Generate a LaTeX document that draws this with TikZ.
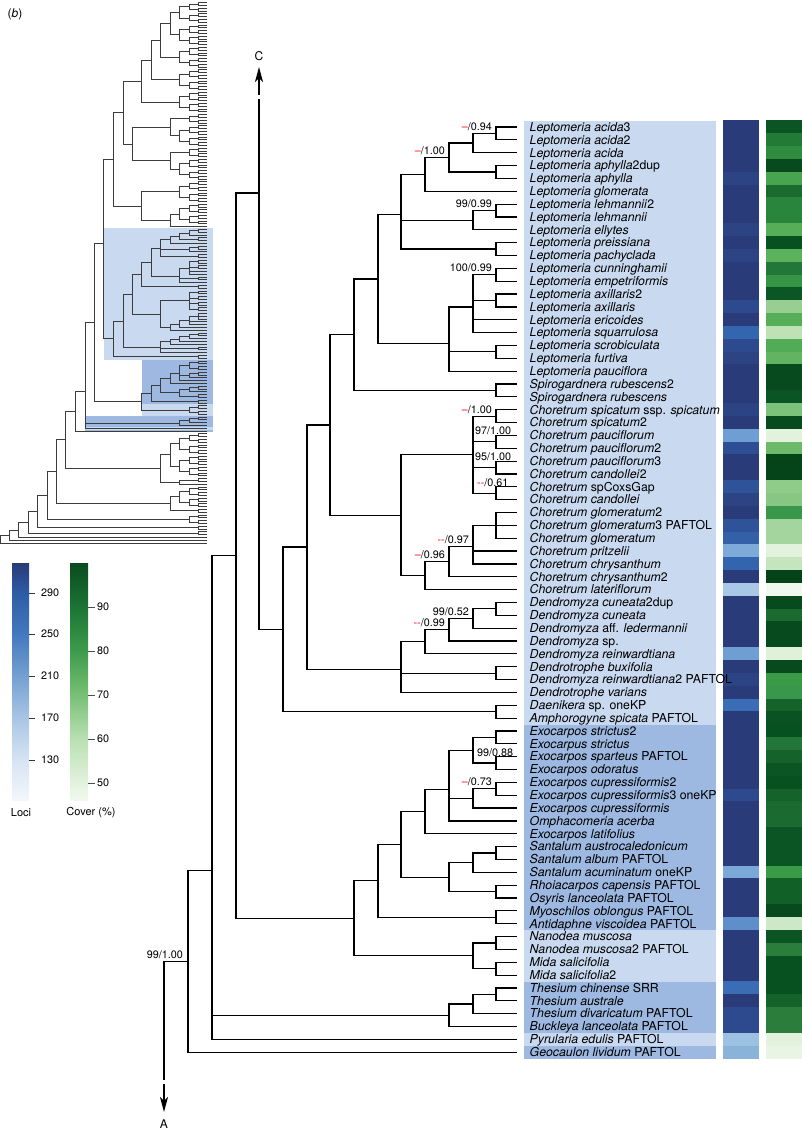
\documentclass[tikz,border=0pt]{standalone}
\usepackage{fontspec}
\setmainfont{texgyreheros}[Extension=.otf, UprightFont=*-regular, ItalicFont=*-italic,
    BoldFont=*-bold, BoldItalicFont=*-bolditalic]
\usetikzlibrary{arrows.meta}

\definecolor{cladelight}{HTML}{C9D9EF}
\definecolor{cladedark}{HTML}{9DB9E1}
\definecolor{thumbgray}{HTML}{3C3C3C}
% legend colours, bottom to top
\definecolor{lociA}{HTML}{F2F7FC}
\definecolor{lociB}{HTML}{D6E4F3}
\definecolor{lociC}{HTML}{A8C5E5}
\definecolor{lociD}{HTML}{74A0D2}
\definecolor{lociE}{HTML}{4479BE}
\definecolor{lociF}{HTML}{2D5CA6}
\definecolor{lociG}{HTML}{283A78}
\definecolor{coverA}{HTML}{F2F9EF}
\definecolor{coverB}{HTML}{B9E0B2}
\definecolor{coverC}{HTML}{78C076}
\definecolor{coverD}{HTML}{3E9B4B}
\definecolor{coverE}{HTML}{1C7434}
\definecolor{coverF}{HTML}{0A4B1F}

\pgfdeclareverticalshading{locibar}{100bp}{color(0bp)=(lociA); color(25bp)=(lociA); color(33.44bp)=(lociB); color(42.3bp)=(lociC); color(51.15bp)=(lociD); color(60bp)=(lociE); color(68.67bp)=(lociF); color(75bp)=(lociG); color(100bp)=(lociG)}
\pgfdeclareverticalshading{coverbar}{100bp}{color(0bp)=(coverA); color(25bp)=(coverA); color(37.87bp)=(coverB); color(47.15bp)=(coverC); color(56.43bp)=(coverD); color(65.7bp)=(coverE); color(75bp)=(coverF); color(100bp)=(coverF)}

\newcommand{\nd}{\textcolor{red}{–}}
\newcommand{\ndd}{\textcolor{red}{-{}-}}

\tikzset{
  taxon/.style={anchor=base west, inner sep=0pt, font=\fontsize{12.3}{14}\selectfont\itshape},
  sup/.style={anchor=base east, inner sep=0pt, xshift=-4pt, yshift=3pt, font=\fontsize{10.8}{13}\selectfont},
  supl/.style={anchor=base west, inner sep=0pt, xshift=-21pt, yshift=7pt, font=\fontsize{10.8}{13}\selectfont},
  legnum/.style={anchor=west, inner sep=0pt, font=\fontsize{10.8}{13}\selectfont},
  cutarrow/.style={line width=1.8pt, -{Stealth[length=15pt,width=8pt,inset=4pt]}},
}

% internal nodes of the tree: x in px, y in rows
\newcommand{\treepoints}{%
  \foreach \r in {1,...,73} \coordinate (t\r) at (517,\r);
  \foreach \n/\x/\y in {L1/496/1.5, L2/473/2.25, L3/496/4.5, L4/449/3.375, L5/425/4.6875,
      L6/496/7.5, L7/473/8.25, L8/496/10.5, L9/401/7.8125, L10/496/12.5, L11/496/14.5,
      L12/473/15, L13/496/18.5, L14/449/17.8333, L15/378/12.8229, S1/496/21.5, L16/354/17.1615,
      C1/496/23.5, C2/496/25.5, C3/496/27.5, C4/496/29.5, C5/473/26.5, C6/496/32,
      C7/473/33.6667, C8/449/34.8333, C9/425/35.9167, C10/401/31.2083, N1/330/24.1849,
      D1/496/38.5, D2/473/39.25, D3/449/40.125, D4/425/41.0625, D5/496/43.5, D6/401/43.1875,
      N2/307/33.6862, A1/496/46.5, N3/283/40.0931, N4/259/6.136,
      E1/496/48.5, E2/496/50.5, E6/473/49.5, E4/496/52.5, E5/473/53.25, E7/449/52.5833,
      E8/425/54.2917, S2/496/57.5, S3/473/58.25, Rh/496/60.5, S4/449/59.375, E9/401/56.8333,
      My/496/62.5, E10/378/59.6667, Na/496/64.5, Mi/496/66.5, NM/473/65.5, N5/354/62.5833,
      N6/236/34.3597, Th1/496/68.5, Th2/473/69.25, Th3/449/70.125, N7/212/58.8282, N8/188/65.9141}
    \coordinate (\n) at (\x,\y);
}
\newcommand{\treeedges}{%
  \foreach \p/\c in {L1/t1,L1/t2,L2/L1,L2/t3,L3/t4,L3/t5,L4/L2,L4/L3,L5/L4,L5/t6,L6/t7,L6/t8,
      L7/L6,L7/t9,L8/t10,L8/t11,L9/L5,L9/L7,L9/L8,L10/t12,L10/t13,L11/t14,L11/t15,L12/L10,
      L12/L11,L12/t16,L12/t17,L13/t18,L13/t19,L14/L12,L14/L13,L14/t20,L15/L9,L15/L14,S1/t21,
      S1/t22,L16/L15,L16/S1,C1/t23,C1/t24,C2/t25,C2/t26,C3/t27,C3/t28,C4/t29,C4/t30,C5/C1,
      C5/C2,C5/C3,C5/C4,C6/t31,C6/t32,C6/t33,C7/C6,C7/t34,C7/t35,C8/C7,C8/t36,C9/C8,C9/t37,
      C10/C5,C10/C9,N1/L16,N1/C10,D1/t38,D1/t39,D2/D1,D2/t40,D3/D2,D3/t41,D4/D3,D4/t42,
      D5/t43,D5/t44,D6/D4,D6/D5,D6/t45,N2/N1,N2/D6,A1/t46,A1/t47,N3/N2,N3/A1,N4/N3,E1/t48,
      E1/t49,E2/t50,E2/t51,E6/E1,E6/E2,E4/t52,E4/t53,E5/E4,E5/t54,E7/E6,E7/E5,E7/t55,E8/E7,
      E8/t56,S2/t57,S2/t58,S3/S2,S3/t59,Rh/t60,Rh/t61,S4/S3,S4/Rh,E9/E8,E9/S4,My/t62,My/t63,
      E10/E9,E10/My,Na/t64,Na/t65,Mi/t66,Mi/t67,NM/Na,NM/Mi,N5/E10,N5/NM,N6/N4,N6/N5,
      Th1/t68,Th1/t69,Th2/Th1,Th2/t70,Th3/Th2,Th3/t71,N7/N6,N7/Th3,N7/t72,N8/N7,N8/t73}
    \draw[branch] (\p) |- (\c);
}

\begin{document}
\begin{tikzpicture}[x=1pt, y=-1pt]
    \useasboundingbox (0,0) rectangle (802,1130);
    \node[font=\fontsize{12}{14}\selectfont] (panel) at (15,14) {(\textit{b})};

    % Overview of the whole tree
    \begin{scope}[xshift=0.2pt, yshift=-226.6pt, x=0.4pt, y=-2.8pt,
                  branch/.style={draw=thumbgray, line width=0.75pt}]
        \fill[cladelight] (259,0.5) rectangle (532,47.5);
        \fill[cladedark] (354,47.5) rectangle (532,63.5);
        \fill[cladelight] (354,63.5) rectangle (532,67.5);
        \fill[cladedark] (212,67.5) rectangle (532,71.5);
        \fill[cladelight] (212,71.5) rectangle (532,72.5);
        \fill[cladedark] (212,72.5) rectangle (532,73.5);
        \treepoints
        \treeedges
        \foreach \j in {-80,-76,-72,-68,-64,-60,-56,-52,-48,-44,-40,-36,-32,-28,-24,-20,-16,-12,-8,-4,74,78,82,86,93,97,103} {
            \draw[branch] (517,\j) -| (496,{\j+1}) -- (517,{\j+1});
            \draw[branch] (517,{\j+2}) -| (496,{\j+3}) -- (517,{\j+3});
            \draw[branch] (496,{\j+0.5}) -| (473,{\j+2.5}) -- (496,{\j+2.5});
        }
        \foreach \j in {90,101,107,109}
            \draw[branch] (517,\j) -| (496,{\j+1}) -- (517,{\j+1});
        \foreach \p/\xa/\ya/\xb/\yb in {449/473/-78.5/473/-74.5, 449/473/-70.5/473/-66.5,
                449/473/-62.5/473/-58.5, 449/473/-54.5/473/-50.5, 449/473/-46.5/473/-42.5,
                449/473/-34.5/473/-30.5, 449/473/-22.5/473/-18.5, 449/473/-14.5/473/-10.5,
                449/473/-6.5/473/-2.5, 425/449/-76.5/449/-68.5, 425/473/-38.5/449/-32.5,
                425/473/-26.5/449/-20.5, 425/449/-4.5/517/0, 401/425/-72.5/449/-60.5,
                378/401/-66.5/449/-52.5, 354/378/-59.5/449/-44.5, 330/425/-35.5/425/-23.5,
                307/354/-52/330/-29.5, 354/449/-12.5/425/-2.25, 283/307/-40.75/354/-7.375,
                259/283/-24.0625/259/6.136,
                449/473/75.5/473/79.5, 449/473/83.5/473/87.5, 425/449/77.5/449/85.5,
                449/496/90.5/517/92, 401/425/81.5/449/91.25, 449/473/94.5/473/98.5,
                425/449/96.5/496/101.5, 164/188/65.914/401/86.375, 140/164/76.14/425/99,
                117/140/87.57/473/104.5, 93/117/96.04/496/107.5, 70/93/101.77/496/109.5,
                46/70/105.64/517/111, 23/46/108.32/517/112, 0/23/110.16/517/113}
            \draw[branch] (\xa,\ya) -| (\p,\yb) -- (\xb,\yb);
    \end{scope}

    % Colour keys
    \shade[shading=locibar] (12,563) rectangle (29,800);
    \shade[shading=coverbar] (70,563) rectangle (88,800);
    \foreach \v/\y in {290/593, 250/634, 210/676, 170/718, 130/760} {
        \draw[black!80] (29,\y) -- (35,\y);
        \node[legnum] (loci\v) at (41,\y) {\v};
    }
    \foreach \v/\y in {90/607, 80/651, 70/695, 60/739, 50/783} {
        \draw[black!70] (88,\y) -- (95,\y);
        \node[legnum] (cover\v) at (97,\y) {\v};
    }
    \node[font=\fontsize{11}{13}\selectfont] (locikey) at (21,813) {Loci};
    \node[font=\fontsize{11}{13}\selectfont] (coverkey) at (91,813) {Cover (\%)};

    % Detailed tree
    \begin{scope}[yshift=-114.15pt, y=-12.85pt, branch/.style={line width=1.2pt}]
        \fill[cladelight] (524,0.5) rectangle (716,47.5);
        \fill[cladedark] (524,47.5) rectangle (716,63.5);
        \fill[cladelight] (524,63.5) rectangle (716,67.5);
        \fill[cladedark] (524,67.5) rectangle (716,71.5);
        \fill[cladelight] (524,71.5) rectangle (716,72.5);
        \fill[cladedark] (524,72.5) rectangle (716,73.5);

        % loci and cover per tip
        \foreach \r/\lc/\cc in {1/293B79/0B5424, 2/293B79/237A37, 3/293B79/2F8C3F, 4/293B79/064A1D,
                5/2C4384/48A44F, 6/293B79/1B6A30, 7/293B79/2A853C, 8/293B79/2A853C, 9/2C4384/56AE58,
                10/293B79/075020, 11/2C4384/5CB15C, 12/293B79/22763A, 13/293B79/369545,
                14/293B79/0A5624, 15/2E4A8E/98CE92, 16/293B79/56AE58, 17/3466B0/BEE2B6,
                18/2E4A8E/52AC56, 19/2C4384/62B461, 20/293B79/064A1D, 21/293B79/064A1D,
                22/293B79/0B5424, 23/2C4384/7DC27A, 24/293B79/064A1D, 25/6E9ED2/E2F2DD,
                26/2E4E94/6CBA69, 27/293B79/054419, 28/293B79/054419, 29/2F5399/8FCB89,
                30/2C4384/88C683, 31/293B79/38974A, 32/2F5399/A5D59E, 33/3460A8/A5D59E,
                34/7EAAD9/E2F2DD, 35/3364AE/C4E5BD, 36/293B79/054419, 37/A9C8E6/F1F8EE,
                38/293B79/064A1D, 39/293B79/1B6A30, 40/293B79/064A1D, 41/293B79/064A1D,
                42/6E9ED2/E0F1DA, 43/293B79/064A1D, 44/2C4384/3A9A48, 45/293B79/38974A,
                46/3A6DB5/15622B, 47/293B79/0A5222, 48/293B79/075020, 49/293B79/22763A,
                50/293B79/15622B, 51/293B79/0B5424, 52/293B79/075020, 53/2E4A8E/15622B,
                54/293B79/1B6A30, 55/293B79/1B6A30, 56/293B79/0B5424, 57/293B79/0B5424,
                58/293B79/0B5424, 59/7AA8D8/3A9A48, 60/293B79/106028, 61/293B79/106028,
                62/293B79/064A1D, 63/5E8FCB/CDE8C6, 64/293B79/0B5424, 65/293B79/2A7D3A,
                66/293B79/075020, 67/293B79/075020, 68/3A6DB5/075020, 69/293B79/15622B,
                70/2E4A8E/2A7D3A, 71/2E4A8E/2A7D3A, 72/9DC1E2/E2F2DD, 73/8AB3DA/E8F4E4} {
            \definecolor{locicell}{HTML}{\lc}
            \definecolor{covercell}{HTML}{\cc}
            \fill[locicell] (723,{\r-0.52}) rectangle (758.5,{\r+0.52});
            \fill[covercell] (765.5,{\r-0.52}) rectangle (802,{\r+0.52});
        }

        \treepoints
        \treeedges

        % cut ends of the tree
        \coordinate (ctop) at (259,-1.18);
        \coordinate (cfoot) at (259,-1.5);
        \coordinate (chead) at (259,-3.67);
        \draw[branch] (N4) -- (ctop);
        \draw[cutarrow] (cfoot) -- (chead) node[anchor=base, yshift=6pt, font=\fontsize{12}{14}\selectfont] (labC) {C};
        \coordinate (abot) at (164,75.16);
        \coordinate (afoot) at (164,75.47);
        \coordinate (ahead) at (164,77.65);
        \draw[branch] (abot) |- (N8);
        \draw[cutarrow] (afoot) -- (ahead) node[anchor=north, yshift=-4pt, font=\fontsize{12}{14}\selectfont] (labA) {A};

        % tip names
        \foreach \r/\name in {1/{Leptomeria acida\textup{3}}, 2/{Leptomeria acida\textup{2}},
                3/{Leptomeria acida}, 4/{Leptomeria aphylla\textup{2dup}}, 5/{Leptomeria aphylla},
                6/{Leptomeria glomerata}, 7/{Leptomeria lehmannii\textup{2}}, 8/{Leptomeria lehmannii},
                9/{Leptomeria ellytes}, 10/{Leptomeria preissiana}, 11/{Leptomeria pachyclada},
                12/{Leptomeria cunninghamii}, 13/{Leptomeria empetriformis},
                14/{Leptomeria axillaris\textup{2}}, 15/{Leptomeria axillaris}, 16/{Leptomeria ericoides},
                17/{Leptomeria squarrulosa}, 18/{Leptomeria scrobiculata}, 19/{Leptomeria furtiva},
                20/{Leptomeria pauciflora}, 21/{Spirogardnera rubescens\textup{2}},
                22/{Spirogardnera rubescens}, 23/{Choretrum spicatum \textup{ssp.} spicatum},
                24/{Choretrum spicatum\textup{2}}, 25/{Choretrum pauciflorum},
                26/{Choretrum pauciflorum\textup{2}}, 27/{Choretrum pauciflorum\textup{3}},
                28/{Choretrum candollei\textup{2}}, 29/{Choretrum \textup{spCoxsGap}},
                30/{Choretrum candollei}, 31/{Choretrum glomeratum\textup{2}},
                32/{Choretrum glomeratum\textup{3 PAFTOL}}, 33/{Choretrum glomeratum},
                34/{Choretrum pritzelii}, 35/{Choretrum chrysanthum}, 36/{Choretrum chrysanthum\textup{2}},
                37/{Choretrum lateriflorum}, 38/{Dendromyza cuneata\textup{2dup}},
                39/{Dendromyza cuneata}, 40/{Dendromyza \textup{aff.} ledermannii},
                41/{Dendromyza \textup{sp.}}, 42/{Dendromyza reinwardtiana}, 43/{Dendrotrophe buxifolia},
                44/{Dendromyza reinwardtiana\textup{2 PAFTOL}}, 45/{Dendrotrophe varians},
                46/{Daenikera \textup{sp. oneKP}}, 47/{Amphorogyne spicata \textup{PAFTOL}},
                48/{Exocarpos strictus\textup{2}}, 49/{Exocarpus strictus},
                50/{Exocarpos sparteus \textup{PAFTOL}}, 51/{Exocarpos odoratus},
                52/{Exocarpos cupressiformis\textup{2}}, 53/{Exocarpos cupressiformis\textup{3 oneKP}},
                54/{Exocarpos cupressiformis}, 55/{Omphacomeria acerba}, 56/{Exocarpos latifolius},
                57/{Santalum austrocaledonicum}, 58/{Santalum album \textup{PAFTOL}},
                59/{Santalum acuminatum \textup{oneKP}}, 60/{Rhoiacarpos capensis \textup{PAFTOL}},
                61/{Osyris lanceolata \textup{PAFTOL}}, 62/{Myoschilos oblongus \textup{PAFTOL}},
                63/{Antidaphne viscoidea \textup{PAFTOL}}, 64/{Nanodea muscosa},
                65/{Nanodea muscosa\textup{2 PAFTOL}}, 66/{Mida salicifolia}, 67/{Mida salicifolia\textup{2}},
                68/{Thesium chinense \textup{SRR}}, 69/{Thesium australe},
                70/{Thesium divaricatum \textup{PAFTOL}}, 71/{Buckleya lanceolata \textup{PAFTOL}},
                72/{Pyrularia edulis \textup{PAFTOL}}, 73/{Geocaulon lividum \textup{PAFTOL}}}
            \node[taxon] (lab\r) at ([xshift=12.5pt, yshift=-4.3pt]t\r) {\name};

        % support values
        \node[sup] (bs1) at (L1) {\nd/0.94};
        \node[sup] (bs2) at (L4) {\nd/1.00};
        \node[sup] (bs3) at (L6) {99/0.99};
        \node[sup] (bs4) at (L10) {100/0.99};
        \node[sup] (bs5) at (C1) {\nd/1.00};
        \node[supl] (bs6) at (C2) {97/1.00};
        \node[supl] (bs7) at (C3) {95/1.00};
        \node[supl, xshift=2pt] (bs8) at (C4) {\ndd/0.61};
        \node[sup] (bs9) at (C7) {\ndd/0.97};
        \node[sup] (bs10) at (C8) {\nd/0.96};
        \node[sup] (bs11) at (D2) {99/0.52};
        \node[sup] (bs12) at (D3) {\ndd/0.99};
        \node[supl, xshift=2pt] (bs13) at (E2) {99/0.88};
        \node[sup] (bs14) at (E4) {\nd/0.73};
        \node[sup, xshift=-1pt] (bs15) at (N8) {99/1.00};
    \end{scope}
\end{tikzpicture}
\end{document}
